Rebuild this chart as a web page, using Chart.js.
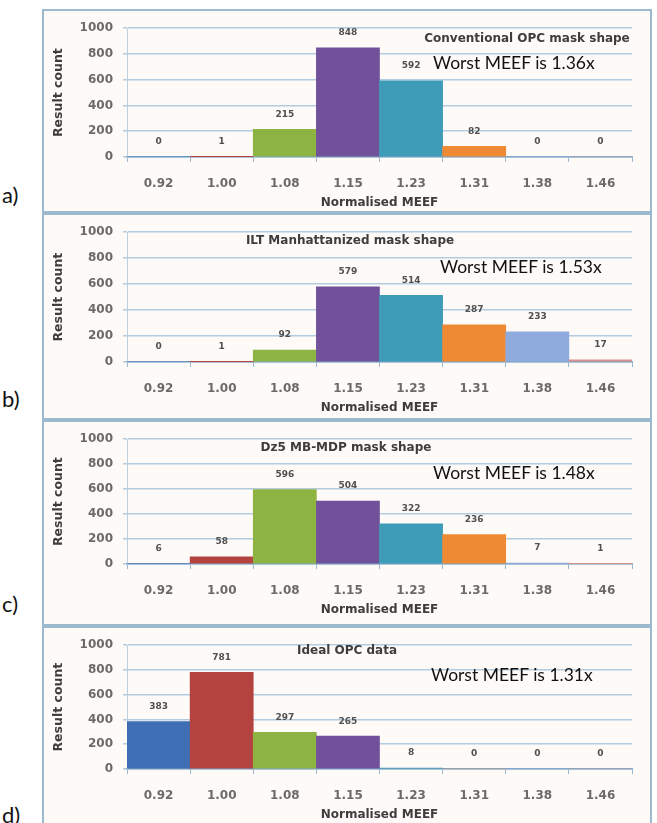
<!DOCTYPE html>
<html><head><meta charset="utf-8">
<script src="https://cdn.jsdelivr.net/npm/chart.js@4.4.1/dist/chart.umd.min.js"></script>
<style>
html,body{margin:0;padding:0;background:#fff;}
body{width:657px;height:823px;position:relative;overflow:hidden;}
.panel{position:absolute;left:42px;width:610px;box-sizing:border-box;border:2px solid #9db9ce;background:#fefaf8;overflow:hidden;}
.panel canvas{position:absolute;left:0;top:0;}
.ptitle{position:absolute;font:bold 12px "DejaVu Sans";color:#3d3d3d;white-space:nowrap;transform:translate(-50%,-50%);z-index:10;}
.worst{position:absolute;font:17.5px Lato;color:#111;white-space:nowrap;transform:translateY(-50%);z-index:10;}
.letter{position:absolute;left:2px;font:22px Lato;color:#111;transform:translateY(-50%);z-index:10;}
</style></head><body>
<script>
const categories = ['0.92','1.00','1.08','1.15','1.23','1.31','1.38','1.46'];
const countsA = [0, 1, 215, 848, 592, 82, 0, 0];
const countsB = [0, 1, 92, 579, 514, 287, 233, 17];
const countsC = [6, 58, 596, 504, 322, 236, 7, 1];
const countsD = [383, 781, 297, 265, 8, 0, 0, 0];
const yTicks = [0, 200, 400, 600, 800, 1000];
const panelTitles = ['Conventional OPC mask shape', 'ILT Manhattanized mask shape', 'Dz5 MB-MDP mask shape', 'Ideal OPC data'];
const worstTexts = ['Worst MEEF is 1.36x', 'Worst MEEF is 1.53x', 'Worst MEEF is 1.48x', 'Worst MEEF is 1.31x'];
const panelLetters = ['a)', 'b)', 'c)', 'd)'];
const xTitle = 'Normalised MEEF';
const yTitle = 'Result count';

const seriesList = [countsA, countsB, countsC, countsD];
const barColors = ['#3E6FB5','#B4423E','#8DB443','#72519B','#3E9CB8','#EE8A33','#8FAADC','#D9908E'];

// layout (page geometry)
const geom = [
  {top:9,   h:204, plotTop:9,  plotBottom:146, title:[527,38], worst:[433,62],  letter:194},
  {top:213, h:207, plotTop:10, plotBottom:147, title:[350,240], worst:[440,266], letter:398},
  {top:420, h:206, plotTop:9,  plotBottom:142, title:[346,447], worst:[433,472], letter:603},
  {top:626, h:199, plotTop:8,  plotBottom:141, title:[347,650], worst:[431,674], letter:814}
];

const valueLabels = {
  id:'valueLabels',
  afterDatasetsDraw(chart){
    const ctx = chart.ctx;
    const meta = chart.getDatasetMeta(0);
    const vals = chart.data.datasets[0].data;
    ctx.save();
    ctx.font = 'bold 9px "DejaVu Sans"';
    ctx.fillStyle = '#505050';
    ctx.textAlign = 'center';
    ctx.textBaseline = 'middle';
    meta.data.forEach((bar, i) => { ctx.fillText(String(vals[i]), bar.x, bar.y - 15); });
    ctx.restore();
  }
};

const tickFont = {family:'DejaVu Sans', weight:'bold', size:12};

geom.forEach((g, idx) => {
  const div = document.createElement('div');
  div.className = 'panel';
  div.style.top = g.top + 'px';
  div.style.height = g.h + 'px';
  div.style.zIndex = idx + 1;
  const cv = document.createElement('canvas');
  cv.width = 606; cv.height = g.h - 4;
  div.appendChild(cv);
  document.body.appendChild(div);

  const H = cv.height;
  const xH = H - g.plotBottom;
  new Chart(cv, {
    type:'bar',
    data:{labels:categories, datasets:[{data:seriesList[idx], backgroundColor:barColors, borderWidth:0, barPercentage:1, categoryPercentage:1}]},
    options:{
      responsive:false, animation:false, devicePixelRatio:1,
      layout:{padding:{top:g.plotTop, right:18, left:0, bottom:0}},
      plugins:{legend:{display:false}, tooltip:{enabled:false}},
      scales:{
        x:{
          grid:{display:true, drawOnChartArea:false, drawTicks:true, tickLength:5, color:'#9ab7cf', offset:true},
          border:{display:true, color:'#7fa6c6', width:1.5},
          ticks:{font:tickFont, color:'#6a6a6a', padding:15, maxRotation:0, autoSkip:false},
          title:{display:true, text:xTitle, font:{family:'DejaVu Sans', weight:'bold', size:12}, color:'#3d3d3d',
                 padding:{top:0, bottom:Math.max(0, H - g.plotBottom - 46 - 7)}},
          afterFit(s){ s.height = xH; }
        },
        y:{
          min:0, max:1000,
          afterBuildTicks(s){ s.ticks = yTicks.map(v => ({value:v})); },
          grid:{color:'#b3cbde', lineWidth:1.5, drawTicks:true, tickLength:4},
          border:{display:true, color:'#bcd0e0', width:1},
          ticks:{font:tickFont, color:'#6a6a6a', padding:10, callback:v => String(v)},
          title:{display:true, text:yTitle, font:{family:'DejaVu Sans', weight:'bold', size:12.5}, color:'#3d3d3d', padding:{top:7, bottom:0}},
          afterFit(s){ s.width = 83; }
        }
      }
    },
    plugins:[valueLabels]
  });

  const t = document.createElement('div');
  t.className = 'ptitle'; t.textContent = panelTitles[idx];
  t.style.left = g.title[0] + 'px'; t.style.top = g.title[1] + 'px';
  document.body.appendChild(t);
  const w = document.createElement('div');
  w.className = 'worst'; w.textContent = worstTexts[idx];
  w.style.left = g.worst[0] + 'px'; w.style.top = g.worst[1] + 'px';
  document.body.appendChild(w);
  const l = document.createElement('div');
  l.className = 'letter'; l.textContent = panelLetters[idx];
  l.style.top = g.letter + 'px';
  document.body.appendChild(l);
});
</script>
</body></html>
